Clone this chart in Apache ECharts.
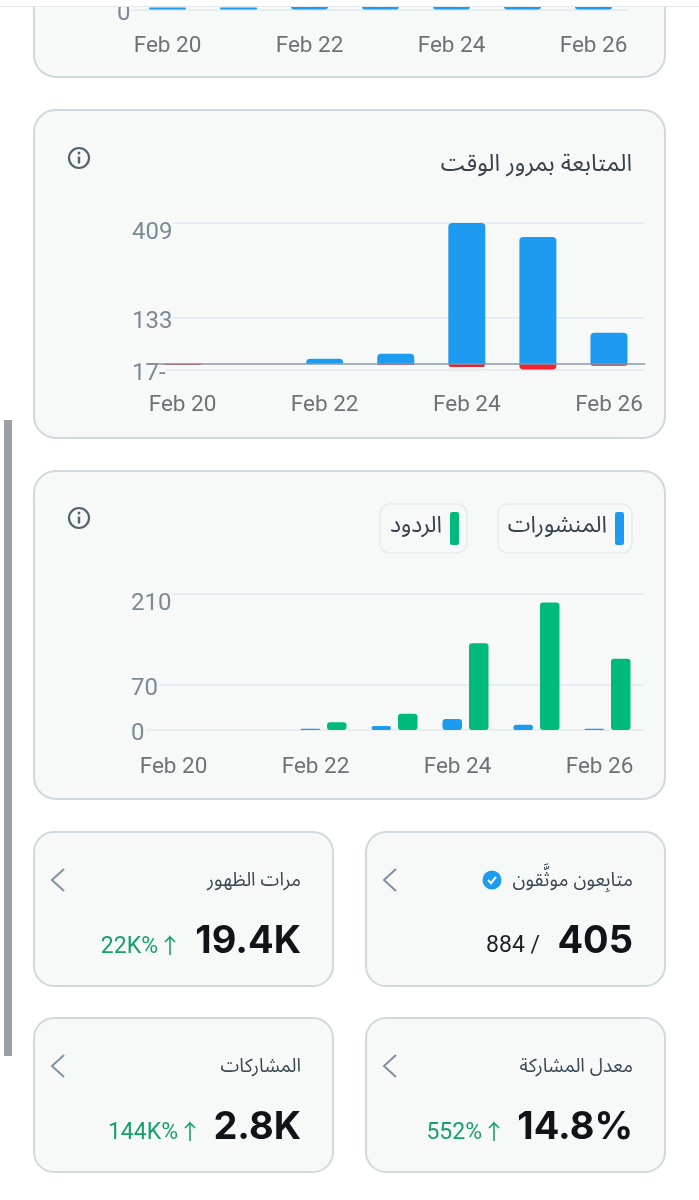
<!DOCTYPE html>
<html>
<head>
<meta charset="utf-8">
<style>
html, body { margin: 0; padding: 0; background: #fff; }
#chart { width: 699px; height: 1200px; }
</style>
<script src="https://cdn.jsdelivr.net/npm/echarts@6/dist/echarts.min.js"></script>
</head>
<body>
<div id="chart"></div>
<script>
const days = ['Feb 20', 'Feb 21', 'Feb 22', 'Feb 23', 'Feb 24', 'Feb 25', 'Feb 26'];

// top chart is cut off by the page edge, only the bottoms of the bars show
const topValues = [2, 2, 12, 40, 36, 28, 18];
const topTicks = [0];

const followValues = [0, 0, 14, 29, 409, 368, 90];
const unfollowValues = [-4, 0, 0, -4, -10, -17, -6];
const followTicks = [-17, 133, 409];

const postValues = [0, 0, 2, 6, 17, 8, 2];
const replyValues = [0, 0, 12, 25, 134, 197, 110];
const activityTicks = [0, 70, 210];

const followTitle = 'المتابعة بمرور الوقت';
const postsName = 'المنشورات';
const repliesName = 'الردود';

const cardTitles = ['مرات الظهور', 'متابِعون موثَّقون', 'المشاركات', 'معدل المشاركة'];
const cardValues = ['19.4K', '405', '2.8K', '14.8%'];
const cardNotes = ['22K%', '884 /', '144K%', '552%'];

const BLUE = '#1d9bf0';
const RED = '#f4212e';
const GREEN = '#00ba7c';
const PANEL = '#f7f9f9';
const BORDER = '#cfd9de';
const GRID_LINE = '#e7ecf0';
const NOTE_GREEN = '#17a06e';
const UI_FONT = 'Roboto, "Liberation Sans", sans-serif';
const AR_FONT = '"Noto Sans Arabic", "Noto Naskh Arabic", "DejaVu Sans", sans-serif';

function panel(x, y, w, h, r) {
    return {
        type: 'rect', z: -1, silent: true,
        shape: { x: x, y: y, width: w, height: h, r: r },
        style: { fill: PANEL, stroke: BORDER, lineWidth: 2 }
    };
}

function label(text, x, y, font, fill, align) {
    return {
        type: 'text', z: 20, silent: true,
        style: { text: text, x: x, y: y, font: font, fill: fill, align: align || 'right', verticalAlign: 'middle' }
    };
}

function infoIcon(cx, cy) {
    return [{
        type: 'circle', z: 20, silent: true,
        shape: { cx: cx, cy: cy, r: 10 },
        style: { fill: 'none', stroke: '#536471', lineWidth: 2.2 }
    }, {
        type: 'rect', z: 20, silent: true,
        shape: { x: cx - 1.2, y: cy - 1.5, width: 2.4, height: 7 },
        style: { fill: '#536471' }
    }, {
        type: 'circle', z: 20, silent: true,
        shape: { cx: cx, cy: cy - 5, r: 1.5 },
        style: { fill: '#536471' }
    }];
}

function chevron(x, y) {
    return {
        type: 'polyline', z: 20, silent: true,
        shape: { points: [[x + 12, y - 11], [x, y], [x + 12, y + 11]] },
        style: { fill: 'none', stroke: '#7f92a3', lineWidth: 2 }
    };
}

function badge(cx, cy) {
    return [{
        type: 'circle', z: 20, silent: true,
        shape: { cx: cx, cy: cy, r: 9.5 },
        style: { fill: BLUE }
    }, {
        type: 'polyline', z: 21, silent: true,
        shape: { points: [[cx - 4, cy], [cx - 1, cy + 3.2], [cx + 4, cy - 3.2]] },
        style: { fill: 'none', stroke: '#fff', lineWidth: 2 }
    }];
}

function upArrow(x, y) {
    return {
        type: 'polyline', z: 20, silent: true,
        shape: { points: [[x - 5, y - 4], [x, y - 9], [x + 5, y - 4], [x, y - 9], [x, y + 9]] },
        style: { fill: 'none', stroke: NOTE_GREEN, lineWidth: 1.6 }
    };
}

function statCard(i, x, y) {
    const right = x + 267;
    return [
        panel(x, y, 299, 154, 20),
        chevron(x + 18, y + 48),
        label(cardTitles[i], right, y + 51, '19px ' + AR_FONT, '#3c4852'),
        label(cardValues[i], right, y + 110, '700 38px Inter, ' + UI_FONT, '#0f1419')
    ];
}

// note text sits left of the big number, its right edge
const noteRights = [158, 540, 178, 482];
const noteYs = [947, 946, 1133, 1133];
const noteColors = [NOTE_GREEN, '#1b2126', NOTE_GREEN, NOTE_GREEN];

const shapes = [
    panel(34, -60, 631, 137, 22),
    panel(34, 110, 631, 328, 22),
    panel(34, 471, 631, 328, 22),
    label(followTitle, 632, 167, '23.6px ' + AR_FONT, '#36424c')
].concat(
    infoIcon(79, 158),
    infoIcon(79, 518),
    statCard(0, 34, 832),
    statCard(1, 366, 832),
    statCard(2, 34, 1018),
    statCard(3, 366, 1018),
    badge(492, 880),
    cardNotes.map((note, i) => label(note, noteRights[i], noteYs[i], '23px ' + UI_FONT, noteColors[i])),
    [upArrow(170, 946), upArrow(190, 1132), upArrow(494, 1132)],
    [{
        type: 'rect', z: 30, silent: true,
        shape: { x: 4, y: 420, width: 8, height: 636 },
        style: { fill: '#9aa0a3' }
    }, {
        type: 'rect', z: 30, silent: true,
        shape: { x: 0, y: 0, width: 699, height: 6.5 },
        style: { fill: '#fff' }
    }, {
        type: 'rect', z: 30, silent: true,
        shape: { x: 0, y: 6, width: 699, height: 1 },
        style: { fill: '#e6e9eb' }
    }]
);

function xAxisFor(gridIndex, margin, extra) {
    return Object.assign({
        type: 'category',
        gridIndex: gridIndex,
        data: days,
        axisTick: { show: false },
        axisLine: { show: false },
        axisLabel: {
            interval: 1,
            margin: margin,
            fontSize: 22.5,
            fontFamily: UI_FONT,
            color: '#6e7276'
        }
    }, extra || {});
}

function yAxisFor(gridIndex, min, max, ticks) {
    return {
        type: 'value',
        gridIndex: gridIndex,
        min: min,
        max: max,
        offset: 15,
        axisLine: { show: false },
        axisTick: { show: false, customValues: ticks },
        splitLine: { show: true, lineStyle: { color: GRID_LINE, width: 1.8 } },
        axisLabel: {
            inside: true,
            margin: 0,
            customValues: ticks,
            fontSize: 24,
            fontFamily: UI_FONT,
            color: '#7c8a96',
            backgroundColor: PANEL,
            padding: [8, 0, 0, 0],
            rich: {
                // the highest label hangs below its line
                peak: { fontSize: 24, fontFamily: UI_FONT, color: '#7c8a96', padding: [12, 0, 0, 0] }
            },
            formatter: v => {
                if (v < 0) return Math.abs(v) + '-';
                return v === max ? '{peak|' + v + '}' : String(v);
            }
        }
    };
}

function legendFor(name, right) {
    return {
        data: [name],
        right: right, top: 504,
        align: 'right',
        icon: 'roundRect',
        itemWidth: 9, itemHeight: 33, itemGap: 0,
        padding: [8, 8, 8, 10],
        backgroundColor: PANEL,
        borderColor: '#e8ecee', borderWidth: 1.6, borderRadius: 10,
        selectedMode: false,
        textStyle: { fontSize: 23, fontFamily: AR_FONT, color: '#36424c', padding: [0, 3, 0, 0] }
    };
}

const option = {
    animation: false,
    backgroundColor: '#fff',
    graphic: { elements: shapes },
    legend: [legendFor(postsName, 67), legendFor(repliesName, 232)],
    grid: [
        { left: 132, width: 497, top: -91, height: 100.5, outerBoundsMode: 'none' },
        { left: 147, width: 497.5, top: 223, height: 146.5, outerBoundsMode: 'none' },
        { left: 146, width: 497, top: 594, height: 136, outerBoundsMode: 'none' }
    ],
    xAxis: [
        xAxisFor(0, 25),
        xAxisFor(1, 24, {
            z: 5,
            axisLine: { show: true, onZero: true, lineStyle: { color: 'rgba(130,148,166,0.72)', width: 2 } }
        }),
        xAxisFor(2, 26, { axisLabel: {
            interval: 1, margin: 26, fontSize: 22.5, fontFamily: UI_FONT, color: '#6e7276',
            padding: [0, 16, 0, 0]
        } })
    ],
    yAxis: [
        yAxisFor(0, 0, 100, topTicks),
        yAxisFor(1, -17, 409, followTicks),
        yAxisFor(2, 0, 210, activityTicks)
    ],
    series: [{
        type: 'bar', name: 'top', xAxisIndex: 0, yAxisIndex: 0,
        data: topValues, barWidth: 37,
        itemStyle: { color: BLUE, borderRadius: 3 }
    }, {
        type: 'bar', name: 'follows', xAxisIndex: 1, yAxisIndex: 1, stack: 'net',
        data: followValues, barWidth: 37,
        itemStyle: { color: BLUE, borderRadius: [4, 4, 0, 0] }
    }, {
        type: 'bar', name: 'unfollows', xAxisIndex: 1, yAxisIndex: 1, stack: 'net',
        data: unfollowValues, barWidth: 37,
        itemStyle: { color: RED, borderRadius: [0, 0, 4, 4] }
    }, {
        type: 'bar', name: postsName, xAxisIndex: 2, yAxisIndex: 2,
        data: postValues, barWidth: 19.5, barGap: '36%',
        itemStyle: { color: BLUE, borderRadius: 3 }
    }, {
        type: 'bar', name: repliesName, xAxisIndex: 2, yAxisIndex: 2,
        data: replyValues, barWidth: 19.5, barGap: '36%',
        itemStyle: { color: GREEN, borderRadius: 3 }
    }]
};

const myChart = echarts.init(document.getElementById('chart'), null, { renderer: 'canvas' });
myChart.setOption(option);
</script>
</body>
</html>
